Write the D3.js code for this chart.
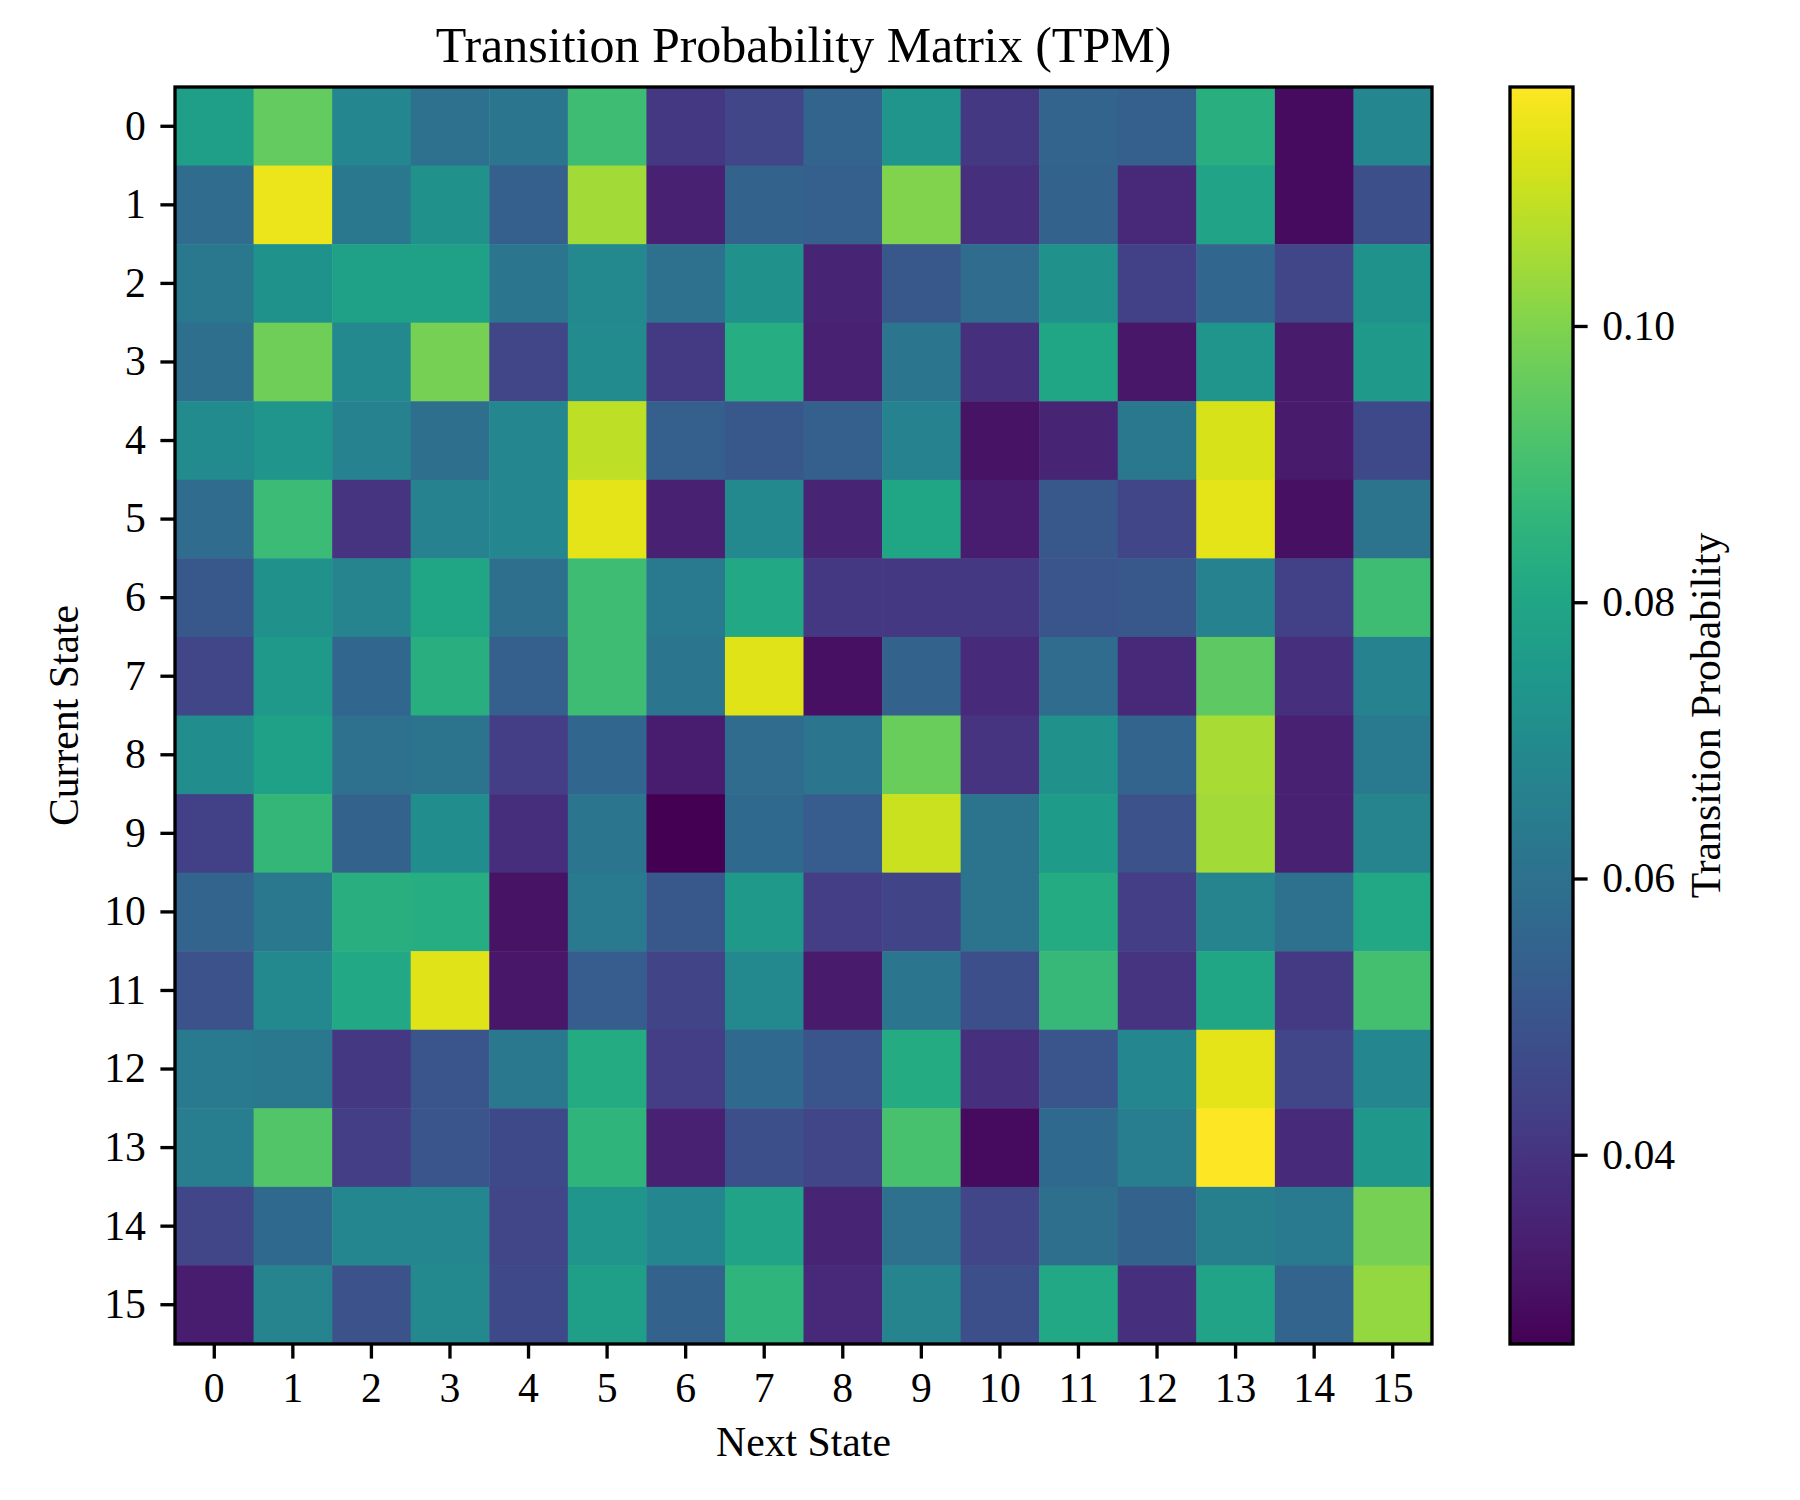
<!DOCTYPE html>
<html>
<head>
<meta charset="utf-8">
<script src="https://cdn.jsdelivr.net/npm/d3@7"></script>
<style>
  body { margin: 0; background: #fff; }
  text { font-family: "Liberation Serif", "Times New Roman", serif; fill: #000; }
</style>
</head>
<body>
<div id="heatmap"></div>
<script>
// state labels for both axes
var states = d3.range(16).map(String);

// colorbar ticks
var cbTicks = [0.04, 0.06, 0.08, 0.10];

// transition probabilities, one row per current state
var tpm = [
  [0.0773,0.0955,0.0682,0.0600,0.0618,0.0891,0.0409,0.0454,0.0554,0.0736,0.0409,0.0554,0.0536,0.0836,0.0290,0.0682],
  [0.0582,0.1146,0.0627,0.0718,0.0536,0.1046,0.0345,0.0545,0.0536,0.1000,0.0390,0.0545,0.0363,0.0791,0.0290,0.0481],
  [0.0627,0.0727,0.0782,0.0782,0.0618,0.0691,0.0600,0.0718,0.0354,0.0509,0.0582,0.0718,0.0436,0.0563,0.0454,0.0727],
  [0.0591,0.0973,0.0691,0.0982,0.0454,0.0700,0.0418,0.0827,0.0345,0.0618,0.0390,0.0800,0.0318,0.0736,0.0327,0.0754],
  [0.0700,0.0736,0.0663,0.0591,0.0682,0.1082,0.0536,0.0509,0.0536,0.0663,0.0309,0.0354,0.0627,0.1118,0.0327,0.0463],
  [0.0582,0.0882,0.0400,0.0663,0.0682,0.1137,0.0345,0.0691,0.0354,0.0800,0.0336,0.0509,0.0454,0.1137,0.0299,0.0609],
  [0.0509,0.0718,0.0673,0.0800,0.0591,0.0891,0.0636,0.0809,0.0409,0.0409,0.0409,0.0500,0.0509,0.0663,0.0436,0.0891],
  [0.0454,0.0754,0.0563,0.0836,0.0536,0.0891,0.0618,0.1128,0.0299,0.0545,0.0372,0.0582,0.0363,0.0946,0.0390,0.0663],
  [0.0709,0.0782,0.0600,0.0609,0.0427,0.0563,0.0336,0.0582,0.0618,0.0964,0.0400,0.0718,0.0554,0.1055,0.0345,0.0636],
  [0.0436,0.0864,0.0545,0.0709,0.0381,0.0618,0.0263,0.0572,0.0527,0.1100,0.0609,0.0764,0.0491,0.1046,0.0345,0.0673],
  [0.0554,0.0627,0.0836,0.0827,0.0309,0.0636,0.0509,0.0754,0.0427,0.0445,0.0609,0.0818,0.0427,0.0673,0.0600,0.0809],
  [0.0491,0.0691,0.0809,0.1128,0.0318,0.0527,0.0445,0.0691,0.0327,0.0618,0.0481,0.0873,0.0400,0.0800,0.0418,0.0900],
  [0.0636,0.0627,0.0409,0.0500,0.0627,0.0818,0.0427,0.0572,0.0500,0.0818,0.0390,0.0500,0.0682,0.1137,0.0454,0.0682],
  [0.0645,0.0927,0.0427,0.0500,0.0463,0.0855,0.0345,0.0481,0.0454,0.0909,0.0290,0.0572,0.0645,0.1173,0.0372,0.0745],
  [0.0454,0.0572,0.0682,0.0682,0.0454,0.0736,0.0682,0.0791,0.0354,0.0600,0.0454,0.0591,0.0545,0.0654,0.0636,0.0982],
  [0.0336,0.0673,0.0491,0.0691,0.0463,0.0773,0.0545,0.0855,0.0363,0.0673,0.0481,0.0809,0.0390,0.0791,0.0554,0.1027]
];

var W = 1800, H = 1500;
var plot = {left: 175, top: 87, right: 1432, bottom: 1344};
var cbar = {left: 1510, right: 1573};
var lw = 3.33, tick = 14.6, fs = 41.7;

var svg = d3.select("#heatmap")
  .append("svg")
  .attr("width", W)
  .attr("height", H);

// flatten for drawing
var cells = [];
tpm.forEach(function(row, i) {
  row.forEach(function(v, j) {
    cells.push({row: states[i], col: states[j], value: v});
  });
});

var x = d3.scaleBand().domain(states).range([plot.left, plot.right]);
var y = d3.scaleBand().domain(states).range([plot.top, plot.bottom]);

var extent = d3.extent(cells, function(d) { return d.value; });
var color = d3.scaleSequential(d3.interpolateViridis).domain(extent);

// cells
svg.append("g")
  .selectAll("rect")
  .data(cells)
  .enter()
  .append("rect")
    .attr("x", function(d) { return x(d.col); })
    .attr("y", function(d) { return y(d.row); })
    .attr("width", x.bandwidth() + 0.5)
    .attr("height", y.bandwidth() + 0.5)
    .attr("fill", function(d) { return color(d.value); });

// axes
function styleAxis(g) {
  g.select(".domain").remove();
  g.selectAll(".tick line").attr("stroke", "#000").attr("stroke-width", lw);
  g.selectAll(".tick text")
    .attr("font-family", "Liberation Serif, Times New Roman, serif")
    .attr("font-size", fs)
    .attr("fill", "#000");
}

svg.append("g")
  .attr("transform", "translate(0," + plot.bottom + ")")
  .call(d3.axisBottom(x).tickSize(tick).tickPadding(14))
  .call(styleAxis);

svg.append("g")
  .attr("transform", "translate(" + plot.left + ",0)")
  .call(d3.axisLeft(y).tickSize(tick).tickPadding(tick))
  .call(styleAxis);

// frame
svg.append("rect")
  .attr("x", plot.left)
  .attr("y", plot.top)
  .attr("width", plot.right - plot.left)
  .attr("height", plot.bottom - plot.top)
  .attr("fill", "none")
  .attr("stroke", "#000")
  .attr("stroke-width", lw);

// title and labels
var cx = (plot.left + plot.right) / 2;
var cy = (plot.top + plot.bottom) / 2;

svg.append("text")
  .attr("x", cx)
  .attr("y", 62)
  .attr("text-anchor", "middle")
  .attr("font-size", 50)
  .text("Transition Probability Matrix (TPM)");

svg.append("text")
  .attr("x", cx)
  .attr("y", 1456)
  .attr("text-anchor", "middle")
  .attr("font-size", fs)
  .text("Next State");

svg.append("text")
  .attr("transform", "translate(78," + cy + ") rotate(-90)")
  .attr("text-anchor", "middle")
  .attr("font-size", fs)
  .text("Current State");

// colorbar
var grad = svg.append("defs").append("linearGradient")
  .attr("id", "viridis")
  .attr("x1", 0).attr("y1", 1)
  .attr("x2", 0).attr("y2", 0);

grad.selectAll("stop")
  .data(d3.range(0, 1.0001, 0.02))
  .enter()
  .append("stop")
    .attr("offset", function(d) { return d; })
    .attr("stop-color", function(d) { return d3.interpolateViridis(d); });

var cy2 = d3.scaleLinear().domain(extent).range([plot.bottom, plot.top]);

svg.append("rect")
  .attr("x", cbar.left)
  .attr("y", plot.top)
  .attr("width", cbar.right - cbar.left)
  .attr("height", plot.bottom - plot.top)
  .attr("fill", "url(#viridis)")
  .attr("stroke", "#000")
  .attr("stroke-width", lw);

svg.append("g")
  .attr("transform", "translate(" + cbar.right + ",0)")
  .call(d3.axisRight(cy2).tickValues(cbTicks).tickFormat(d3.format(".2f")).tickSize(tick).tickPadding(tick))
  .call(styleAxis);

svg.append("text")
  .attr("transform", "translate(1720," + cy + ") rotate(-90)")
  .attr("text-anchor", "middle")
  .attr("font-size", fs)
  .text("Transition Probability");
</script>
</body>
</html>
